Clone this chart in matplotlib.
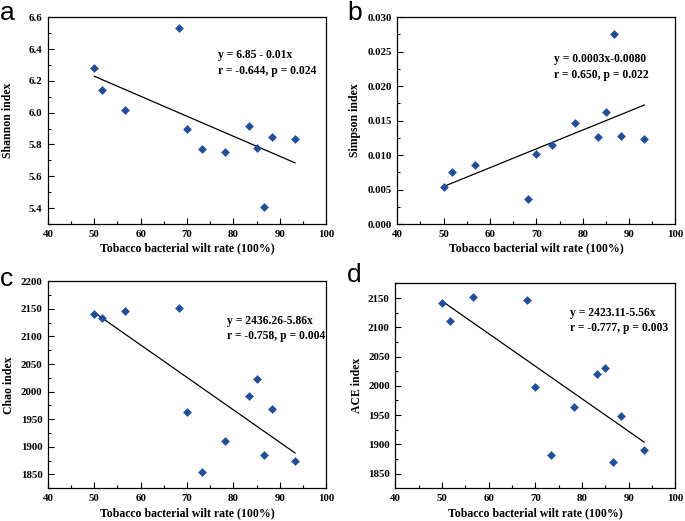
import numpy as np
import matplotlib
matplotlib.use("Agg")
import matplotlib.pyplot as plt
from matplotlib.ticker import MultipleLocator, FuncFormatter

wilt_rate = [50.0, 51.7, 56.7, 68.3, 70.0, 73.3, 78.3, 83.3, 85.0, 86.7, 88.3, 93.3]
shannon = [6.28, 6.14, 6.015, 6.53, 5.895, 5.77, 5.755, 5.915, 5.78, 5.405, 5.845, 5.835]
simpson = [0.0053, 0.0076, 0.0086, 0.0037, 0.0102, 0.0115, 0.0147, 0.0126, 0.0163, 0.0275, 0.0128, 0.0123]
chao = [2141, 2133, 2147, 2152, 1964, 1854, 1911, 1992, 2023, 1885, 1969, 1875]
ace = [2141, 2110, 2151, 2147, 1998, 1881, 1964, 2020, 2031, 1870, 1948, 1891]

panel_letters = ["a", "b", "c", "d"]
y_labels = ["Shannon index", "Simpson index", "Chao index", "ACE index"]
equations = [
    ["y = 6.85 - 0.01x", "r = -0.644, p = 0.024"],
    ["y = 0.0003x-0.0080", "r = 0.650, p = 0.022"],
    ["y = 2436.26-5.86x", "r = -0.758, p = 0.004"],
    ["y = 2423.11-5.56x", "r = -0.777, p = 0.003"],
]
x_label = "Tobacco bacterial wilt rate (100%)"

plt.rcParams["font.family"] = ["Liberation Serif", "DejaVu Serif"]
plt.rcParams["font.weight"] = "bold"

fig = plt.figure(figsize=(6.85, 5.21), dpi=100)

positions = [
    [0.070, 0.570, 0.406, 0.397],
    [0.580, 0.570, 0.406, 0.397],
    [0.070, 0.063, 0.406, 0.397],
    [0.577, 0.063, 0.409, 0.393],
]
ylims = [(5.3, 6.6), (0.0, 0.030), (1825, 2200), (1825, 2175)]
ymaj = [0.2, 0.005, 50, 50]
yfmt = ["{:.1f}", "{:.3f}", "{:.0f}", "{:.0f}"]
text_pos = [(0.61, 0.816, 0.739), (0.565, 0.80, 0.72), (0.643, 0.807, 0.734), (0.625, 0.854, 0.78)]
letter_pos = [(-0.173, 1.02), (-0.18, 1.02), (-0.173, 1.01), (-0.171, 1.04)]
ylabel_x = [-0.144, -0.151, -0.14, -0.136]
series = [shannon, simpson, chao, ace]

x = np.array(wilt_rate)
for i, vals in enumerate(series):
    ax = fig.add_axes(positions[i])
    y = np.array(vals, dtype=float)
    ax.scatter(x, y, marker="D", s=20, color="#1f4e9e", zorder=3, linewidths=0)
    k, b = np.polyfit(x, y, 1)
    xs = np.array([x.min(), x.max()])
    ax.plot(xs, k * xs + b, color="black", lw=0.9, zorder=2)
    ax.set_xlim(40, 100)
    ax.set_ylim(*ylims[i])
    ax.xaxis.set_major_locator(MultipleLocator(10))
    ax.xaxis.set_minor_locator(MultipleLocator(5))
    ax.yaxis.set_major_locator(MultipleLocator(ymaj[i]))
    ax.yaxis.set_minor_locator(MultipleLocator(ymaj[i] / 2))
    ax.yaxis.set_major_formatter(FuncFormatter(lambda v, p, f=yfmt[i]: f.format(v)))
    ax.tick_params(which="both", direction="in", labelsize=7.8, width=0.8)
    ax.tick_params(which="major", length=4, pad=4)
    ax.tick_params(which="minor", length=2)
    for s in ax.spines.values():
        s.set_linewidth(0.9)
    ax.set_xlabel(x_label, fontsize=8.5, fontweight="bold", labelpad=3)
    ax.set_ylabel(y_labels[i], fontsize=8.5, fontweight="bold", va="center")
    ax.yaxis.set_label_coords(ylabel_x[i], 0.5)
    tx, ty1, ty2 = text_pos[i]
    ax.text(tx, ty1, equations[i][0], transform=ax.transAxes, fontsize=8.4, fontweight="bold", va="center")
    ax.text(tx, ty2, equations[i][1], transform=ax.transAxes, fontsize=8.4, fontweight="bold", va="center")
    lx, ly = letter_pos[i]
    ax.text(lx, ly, panel_letters[i], transform=ax.transAxes, fontsize=19,
            family=["Liberation Sans", "DejaVu Sans"], fontweight="normal", va="center", ha="left")

fig.savefig("out.png", dpi=100)
